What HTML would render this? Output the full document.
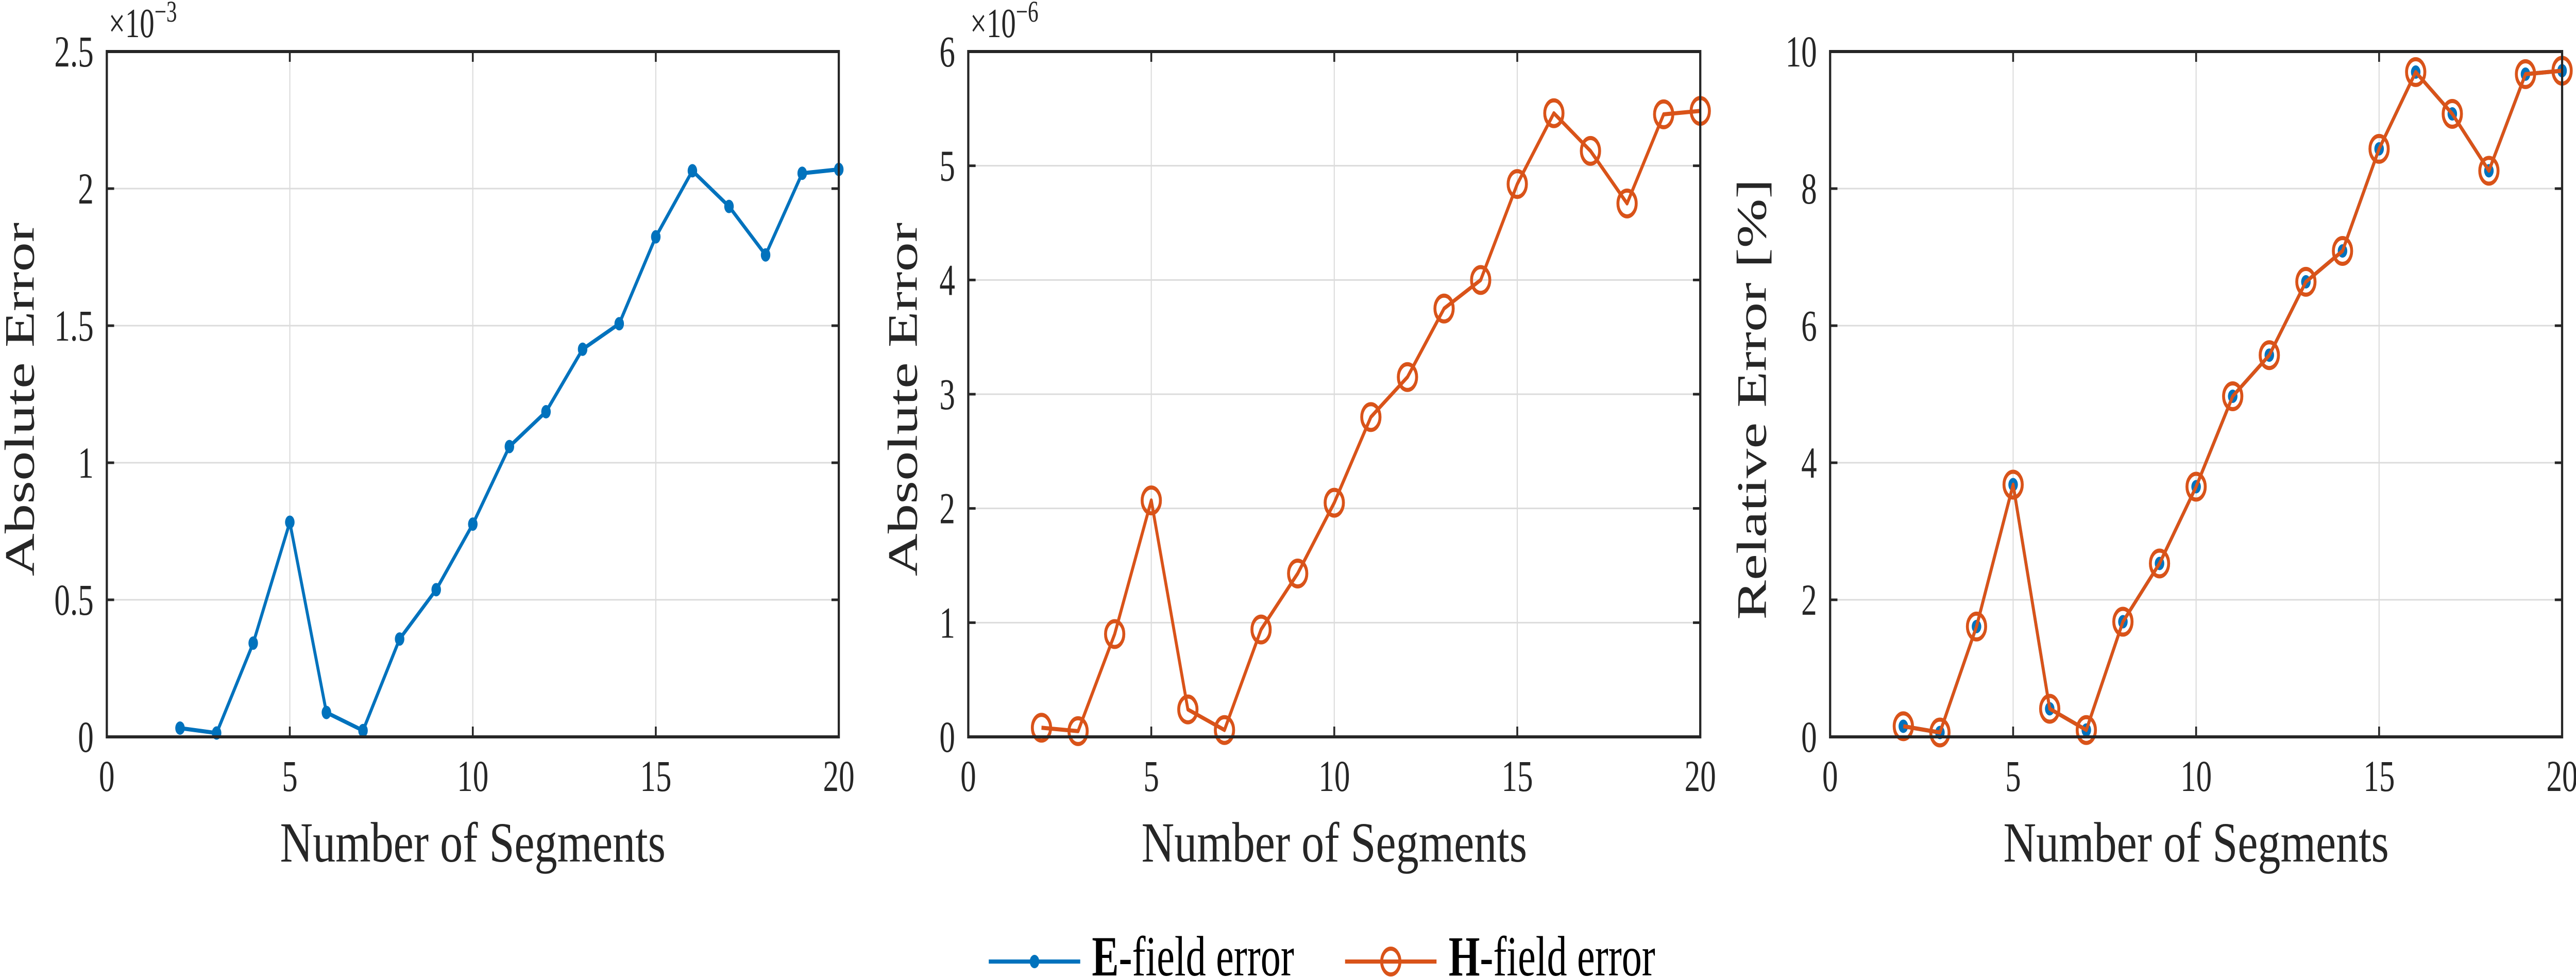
<!DOCTYPE html>
<html><head><meta charset="utf-8"><style>
html,body{margin:0;padding:0;background:#fff;overflow:hidden;width:100vw;height:100vh;}
svg{display:block;font-family:"Liberation Serif",serif;width:100vw;height:100vh;}
</style></head><body>
<svg id="chart" viewBox="0 0 7042 1896" preserveAspectRatio="none" xmlns="http://www.w3.org/2000/svg"></svg>
<script>
const segments = [2,3,4,5,6,7,8,9,10,11,12,13,14,15,16,17,18,19,20];
const eAbsErr = [0.032,0.014,0.342,0.783,0.089,0.023,0.357,0.537,0.776,1.059,1.186,1.414,1.507,1.824,2.065,1.935,1.758,2.056,2.070];
const hAbsErr = [0.08,0.05,0.90,2.07,0.24,0.06,0.94,1.43,2.05,2.80,3.15,3.75,4.00,4.84,5.46,5.13,4.67,5.45,5.48];
const eRelErr = [0.155,0.064,1.61,3.68,0.41,0.10,1.68,2.53,3.65,4.97,5.57,6.64,7.09,8.58,9.70,9.09,8.26,9.67,9.72];
const hRelErr = [0.155,0.064,1.61,3.68,0.41,0.10,1.68,2.53,3.65,4.97,5.57,6.64,7.09,8.58,9.70,9.09,8.26,9.67,9.72];
const xTicks = [0,5,10,15,20];
const yTicks1 = [0,0.5,1,1.5,2,2.5];
const yTicks2 = [0,1,2,3,4,5,6];
const yTicks3 = [0,2,4,6,8,10];

const NS="http://www.w3.org/2000/svg";
const svg=document.getElementById('chart');
const BLUE="#0072BD", ORANGE="#D95319", AX="#262626";
const K=1;
function mk(tag,attrs,parent){const e=document.createElementNS(NS,tag);for(const k in attrs)e.setAttribute(k,attrs[k]);(parent||svg).appendChild(e);return e;}

const TOP=100,BOT=1430;
function panel(id,left,yMax,yTicks,yLabel,ylabX,expText,series){
  const right=left+2001;
  const g=mk('g',{});
  
  
  const xs=v=>left+(v-0)/20*(right-left);
  const ys=v=>BOT-(v/yMax)*(BOT-TOP);
  xTicks.forEach(t=>{if(t>0&&t<20){const l=mk('line',{x1:xs(t),x2:xs(t),y1:TOP,y2:BOT,stroke:"#dcdcdc","stroke-width":3},g);
    }});
  yTicks.forEach(t=>{if(t>0&&t<yMax){const l=mk('line',{x1:left,x2:right,y1:ys(t),y2:ys(t),stroke:"#dcdcdc","stroke-width":3},g);
    }});
  series.forEach(s=>{
    const pts=segments.map((x,i)=>xs(x)+','+ys(s.vals[i])).join(' ');
    if(s.line){const pl=mk('polyline',{points:pts,fill:'none',stroke:s.color,'stroke-width':8,'stroke-linejoin':'round'},g);
      }
    segments.forEach((x,i)=>{
      let c;
      if(s.marker==='dot'){c=mk('ellipse',{cx:xs(x),cy:ys(s.vals[i]),rx:13*K,ry:13,fill:s.color},g);}
      else {c=mk('ellipse',{cx:xs(x),cy:ys(s.vals[i]),rx:25*K,ry:25,fill:'none',stroke:s.color,'stroke-width':8},g);}
      
      
    });
  });
  const box=mk('rect',{x:left,y:TOP,width:right-left,height:BOT-TOP,fill:'none',stroke:AX,'stroke-width':6},g);
  
  xTicks.forEach(t=>{
    mk('line',{x1:xs(t),x2:xs(t),y1:BOT,y2:BOT-20,stroke:AX,'stroke-width':5},g);
    mk('line',{x1:xs(t),x2:xs(t),y1:TOP,y2:TOP+20,stroke:AX,'stroke-width':5},g);
    const tx=mk('text',{x:xs(t),y:1535,'font-size':86,'text-anchor':'middle',fill:AX},g);
    tx.textContent=t;
    
  });
  yTicks.forEach(t=>{
    mk('line',{x1:left,x2:left+20,y1:ys(t),y2:ys(t),stroke:AX,'stroke-width':5},g);
    mk('line',{x1:right,x2:right-20,y1:ys(t),y2:ys(t),stroke:AX,'stroke-width':5},g);
    const tx=mk('text',{x:left-36,y:ys(t)+29,'font-size':86,'text-anchor':'end',fill:AX},g);
    tx.textContent=t;
    
  });
  const xl=mk('text',{x:(left+right)/2,y:1672,'font-size':110,'text-anchor':'middle',fill:AX,textLength:1054,lengthAdjust:'spacingAndGlyphs'},g);
  xl.textContent='Number of Segments';
  
  const yl=mk('text',{x:0,y:0,'font-size':115,'text-anchor':'middle',fill:AX,transform:`translate(${ylabX},${(TOP+BOT)/2+10}) rotate(-90)`},g);
  yl.textContent=yLabel;
  
  if(expText){
    const ex=mk('text',{x:left+5,y:72,'font-size':80,fill:AX},g);
    
    const t1=mk('tspan',{},ex);t1.textContent='×10';
    const t2=mk('tspan',{dy:-30,'font-size':58},ex);t2.textContent=expText;
  }
}
panel('panel-e-absolute-error',292,2.5,yTicks1,'Absolute Error',92,'−3',[{name:'e-field',vals:eAbsErr,color:BLUE,marker:'dot',line:true}]);
panel('panel-h-absolute-error',2647,6,yTicks2,'Absolute Error',2506,'−6',[{name:'h-field',vals:hAbsErr,color:ORANGE,marker:'circle',line:true}]);
panel('panel-relative-error',5003,10,yTicks3,'Relative Error [%]',4827,null,[
  {name:'e-field',vals:eRelErr,color:BLUE,marker:'dot',line:true},
  {name:'h-field',vals:hRelErr,color:ORANGE,marker:'circle',line:true}]);

const lg=mk('g',{});


const LY=1866;
const e1=mk('g',{},lg);


mk('line',{x1:2703,x2:2953,y1:LY,y2:LY,stroke:BLUE,'stroke-width':8},e1);
mk('ellipse',{cx:2828,cy:LY,rx:13*K,ry:13,fill:BLUE},e1);
const et=mk('text',{x:2985,y:1893,'font-size':110,fill:'#000'},e1);
const eb=mk('tspan',{'font-weight':'bold'},et);eb.textContent='E';
const er=mk('tspan',{},et);er.textContent='-field error';
const e2=mk('g',{},lg);


mk('line',{x1:3677,x2:3927,y1:LY,y2:LY,stroke:ORANGE,'stroke-width':8},e2);
mk('ellipse',{cx:3802,cy:LY,rx:25*K,ry:25,fill:'none',stroke:ORANGE,'stroke-width':8},e2);
const ht=mk('text',{x:3960,y:1893,'font-size':110,fill:'#000'},e2);
const hb=mk('tspan',{'font-weight':'bold'},ht);hb.textContent='H';
const hr=mk('tspan',{},ht);hr.textContent='-field error';
</script>
</body></html>
